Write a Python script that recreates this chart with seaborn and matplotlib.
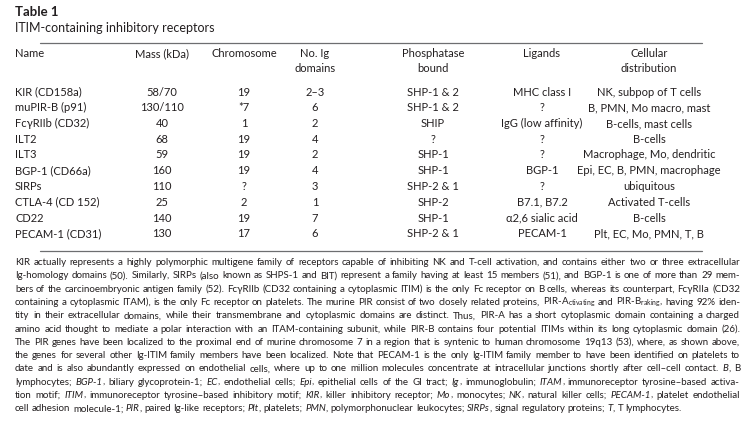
import re

import matplotlib
matplotlib.use("Agg")
import matplotlib.pyplot as plt
import seaborn as sns

# ---- table data ----
names = ["KIR (CD158a)", "muPIR-B (p91)", "FcγRIIb (CD32)", "ILT2", "ILT3",
         "BGP-1 (CD66a)", "SIRPs", "CTLA-4 (CD 152)", "CD22", "PECAM-1 (CD31)"]
mass = ["58/70", "130/110", "40", "68", "59", "160", "110", "25", "140", "130"]
chromosome = ["19", "*7", "1", "19", "19", "19", "?", "2", "19", "17"]
ig_domains = ["2–3", "6", "2", "4", "2", "4", "3", "1", "7", "6"]
phosphatase = ["SHP-1 & 2", "SHP-1 & 2", "SHIP", "?", "SHP-1", "SHP-1",
               "SHP-2 & 1", "SHP-2", "SHP-1", "SHP-2 & 1"]
ligands = ["MHC class I", "?", "IgG (low affinity)", "?", "?", "BGP-1", "?",
           "B7.1, B7.2", "α2,6 sialic acid", "PECAM-1"]
distribution = ["NK, subpop of T cells", "B, PMN, Mo macro, mast",
                "B-cells, mast cells", "B-cells", "Macrophage, Mo, dendritic",
                "Epi, EC, B, PMN, macrophage", "ubiquitous", "Activated T-cells",
                "B-cells", "Plt, EC, Mo, PMN, T, B"]
headers = ["Name", "Mass (kDa)", "Chromosome", "No. Ig\ndomains",
           "Phosphatase\nbound", "Ligands", "Cellular\ndistribution"]

title = "Table 1"
subtitle = "ITIM-containing inhibitory receptors"

# footnote lines, *...* = italic
note_lines = [
    "KIR actually represents a highly polymorphic multigene family of receptors capable of inhibiting NK and T-cell activation, and contains either two or three extracellular",
    "Ig-homology domains (50). Similarly, SIRPs (also known as SHPS-1 and BIT) represent a family having at least 15 members (51), and BGP-1 is one of more than 29 mem-",
    "bers of the carcinoembryonic antigen family (52). FcγRIIb (CD32 containing a cytoplasmic ITIM) is the only Fc receptor on B cells, whereas its counterpart, FcγRIIa (CD32",
    "containing a cytoplasmic ITAM), is the only Fc receptor on platelets. The murine PIR consist of two closely related proteins, PIR-A$_\\mathregular{ctivating}$ and PIR-B$_\\mathregular{raking}$, having 92% iden-",
    "tity in their extracellular domains, while their transmembrane and cytoplasmic domains are distinct. Thus, PIR-A has a short cytoplasmic domain containing a charged",
    "amino acid thought to mediate a polar interaction with an ITAM-containing subunit, while PIR-B contains four potential ITIMs within its long cytoplasmic domain (26).",
    "The PIR genes have been localized to the proximal end of murine chromosome 7 in a region that is syntenic to human chromosome 19q13 (53), where, as shown above,",
    "the genes for several other Ig-ITIM family members have been localized. Note that PECAM-1 is the only Ig-ITIM family member to have been identified on platelets to",
    "date and is also abundantly expressed on endothelial cells, where up to one million molecules concentrate at intracellular junctions shortly after cell–cell contact. *B*, B",
    "lymphocytes; *BGP-1*, biliary glycoprotein-1; *EC*, endothelial cells; *Epi*, epithelial cells of the GI tract; *Ig*, immunoglobulin; *ITAM*, immunoreceptor tyrosine–based activa-",
    "tion motif; *ITIM*, immunoreceptor tyrosine–based inhibitory motif; *KIR*, killer inhibitory receptor; *Mo*, monocytes; *NK*, natural killer cells; *PECAM-1*, platelet endothelial",
    "cell adhesion molecule-1; *PIR*, paired Ig-like receptors; *Plt*, platelets; *PMN*, polymorphonuclear leukocytes; *SIRPs*, signal regulatory proteins; *T*, T lymphocytes.",
]

sns.set_theme(style="white")
plt.rcParams["font.family"] = ["Lato", "DejaVu Sans"]
plt.rcParams["mathtext.default"] = "regular"

INK = "#231f20"
RULE = "#6d6e70"
FS = 8.0
W, H = 755, 422

fig = plt.figure(figsize=(W / 100, H / 100), dpi=100)
fig.patch.set_facecolor("white")
ax = fig.add_axes([0, 0, 1, 1])
ax.set_xlim(0, W)
ax.set_ylim(H, 0)
ax.axis("off")

# title block
ax.text(15, 16.5, title, fontsize=9.5, fontweight="bold", color=INK, va="baseline")
ax.text(15, 32, subtitle, fontsize=9, color=INK, va="baseline")

x_left, x_right = 40, 702
ax.plot([x_left, x_right], [42.5, 42.5], color=RULE, lw=0.9)

col_x = [15, 162, 244, 315, 433, 542, 649]
col_ha = ["left"] + ["center"] * 6
for x, ha, h in zip(col_x, col_ha, headers):
    for k, part in enumerate(h.split("\n")):
        ax.text(x, 57 + k * 15, part, fontsize=FS, color=INK, ha=ha, va="baseline")

row0, step = 95.5, 15.75
columns = [names, mass, chromosome, ig_domains, phosphatase, ligands, distribution]
for i in range(len(names)):
    y = row0 + i * step
    for x, ha, col in zip(col_x, col_ha, columns):
        ax.text(x, y, col[i], fontsize=FS, color=INK, ha=ha, va="baseline")

bottom_rule = row0 + (len(names) - 1) * step + 14
ax.plot([x_left, x_right], [bottom_rule, bottom_rule], color=RULE, lw=0.9)

# justified footnote
renderer = fig.canvas.get_renderer()


def seg_width(s, style, size):
    t = ax.text(0, 0, s, fontsize=size, style=style)
    w = t.get_window_extent(renderer).width
    t.remove()
    return w


def split_word(word):
    out = []
    for part in re.split(r"(\*[^*]+\*)", word):
        if not part:
            continue
        if part.startswith("*") and part.endswith("*"):
            out.append((part[1:-1], "italic"))
        else:
            out.append((part, "normal"))
    return out


def natural_width(line, size):
    words = [split_word(w) for w in line.split(" ")]
    sp = seg_width("a a", "normal", size) - seg_width("aa", "normal", size)
    return sum(seg_width(s, st, size) for wd in words for s, st in wd) + sp * (len(words) - 1)


note_x0, note_x1 = 15, 740
# size the footnote so justified lines need only a little extra spacing
widths8 = [natural_width(l, 8.0) for l in note_lines[:-1]]
FSN = 8.0 * 716 / (sum(widths8) / len(widths8))

space_w = seg_width("a a", "normal", FSN) - seg_width("aa", "normal", FSN)
note_y0, note_step = 265, 13.3
for j, line in enumerate(note_lines):
    words = [split_word(w) for w in line.split(" ")]
    widths = [[seg_width(s, st, FSN) for s, st in wd] for wd in words]
    total = sum(sum(ws) for ws in widths)
    if j < len(note_lines) - 1:
        gap = (note_x1 - note_x0 - total) / (len(words) - 1)
    else:
        gap = space_w
    x = note_x0
    y = note_y0 + j * note_step
    for wd, ws in zip(words, widths):
        for (s, st), w in zip(wd, ws):
            ax.text(x, y, s, fontsize=FSN, style=st, color=INK, va="baseline")
            x += w
        x += gap

fig.savefig("out.png", dpi=100, facecolor="white")
